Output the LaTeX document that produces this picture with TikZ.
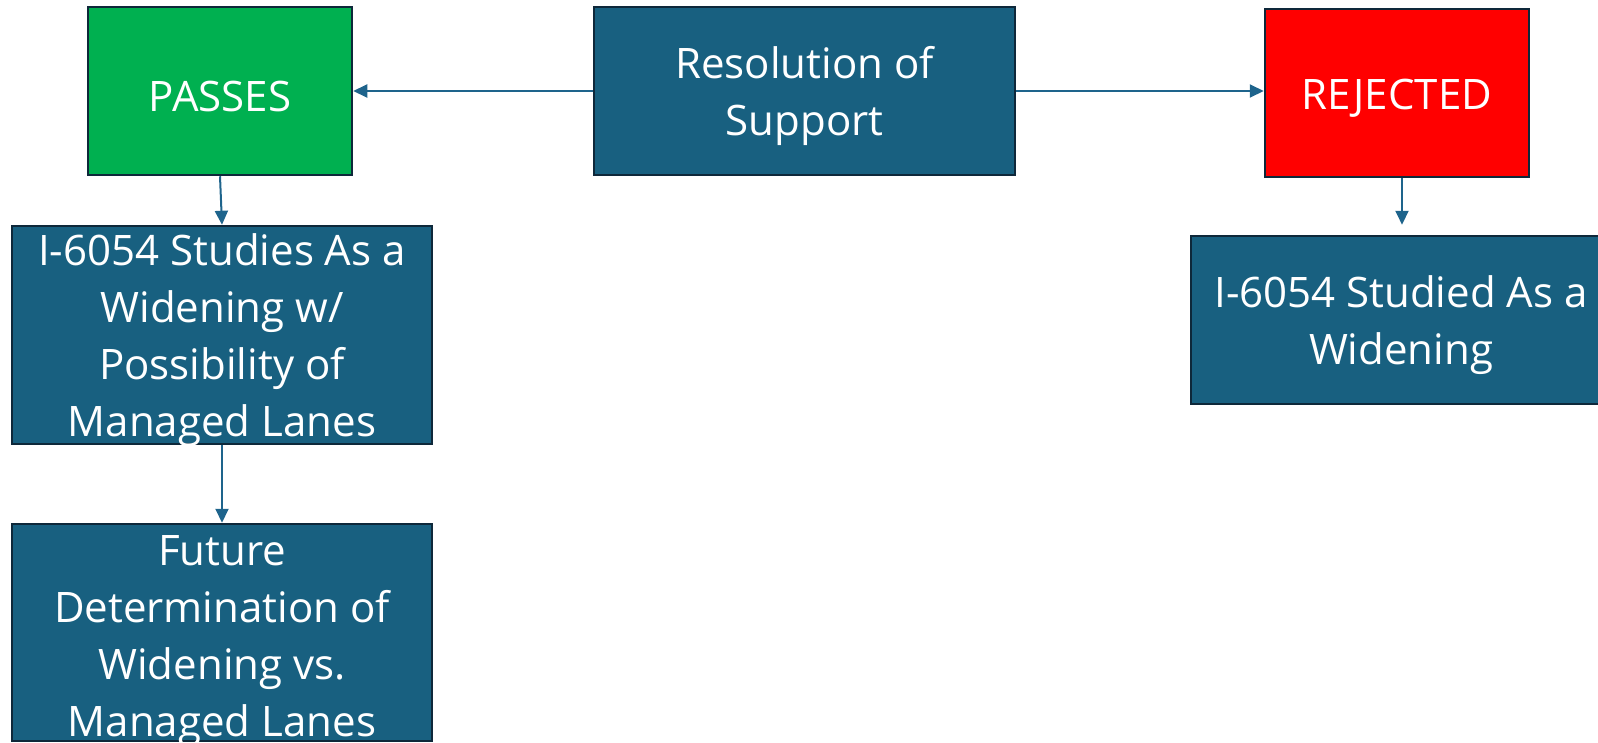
\documentclass[tikz,border=0pt]{standalone}
\usepackage{fontspec}
\setmainfont{Open Sans}
\usetikzlibrary{arrows.meta}
\definecolor{boxblue}{RGB}{24,96,128}
\definecolor{edgedark}{RGB}{14,40,58}
\definecolor{arrowblue}{RGB}{30,100,140}
\definecolor{passgreen}{RGB}{0,176,80}
\definecolor{rejred}{RGB}{255,0,0}
\begin{document}
\begin{tikzpicture}[x=1pt,y=-1pt,
  box/.style={draw=edgedark, line width=2.5pt, inner sep=0pt, rectangle},
  bluebox/.style={box, fill=boxblue},
  txt/.style={text=white, align=center, font=\fontsize{42}{57}\selectfont, inner sep=0pt, yshift=-5pt},
  conn/.style={draw=arrowblue, line width=2pt, -{Triangle[length=14pt,width=13pt]}}]
\useasboundingbox (0,0) rectangle (1598,742);
\node[box, fill=passgreen, minimum width=264pt, minimum height=168pt] (pass) at (220,91) {};
\node[bluebox, minimum width=421pt, minimum height=168pt] (res) at (804.5,91) {};
\node[box, fill=rejred, minimum width=264pt, minimum height=168pt] (rej) at (1397,93) {};
\node[bluebox, minimum width=420pt, minimum height=218pt] (box2) at (222,335) {};
\node[bluebox, minimum width=420pt, minimum height=217pt] (box3) at (222,632.5) {};
\node[bluebox, minimum width=420pt, minimum height=168pt] (rbox) at (1401,320) {};
\node[txt] (tpass) at (pass.center) {PASSES};
\node[txt] (tres) at (res.center) {Resolution of\\Support};
\node[txt] (trej) at (rej.center) {REJECTED};
\node[txt] (tbox2) at (box2.center) {I-6054 Studies As a\\Widening w/\\Possibility of\\Managed Lanes};
\node[txt, yshift=-4pt] (tbox3) at (box3.center) {Future\\Determination of\\Widening vs.\\Managed Lanes};
\node[txt] (trbox) at (rbox.center) {I-6054 Studied As a\\Widening};
\draw[conn] (res.west) -- (res.west -| pass.east);
\draw[conn] (res.east) -- (res.east -| rej.west);
\draw[conn] (pass.south) -- (box2.north);
\draw[conn] (box2.south) -- (box3.north);
\draw[conn, shorten >=10pt] ([xshift=5pt]rej.south) -- ([xshift=5pt]rej.south |- rbox.north);
\end{tikzpicture}
\end{document}
